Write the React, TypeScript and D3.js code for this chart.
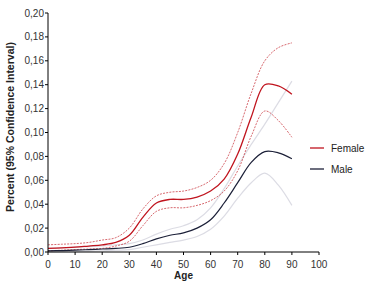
import React from "react";
import * as d3 from "d3";

const ages = [0, 5, 10, 15, 20, 25, 30, 35, 40, 45, 50, 55, 60, 65, 70, 75, 80, 85, 90];
const femaleMain = [0.003, 0.0035, 0.004, 0.005, 0.006, 0.008, 0.014, 0.029, 0.041, 0.044, 0.044, 0.046, 0.051, 0.061, 0.082, 0.113, 0.140, 0.139, 0.132];
const femaleUpper = [0.006, 0.0065, 0.007, 0.008, 0.01, 0.012, 0.02, 0.036, 0.047, 0.05, 0.051, 0.054, 0.06, 0.074, 0.1, 0.133, 0.16, 0.171, 0.175];
const femaleLower = [0.001, 0.0015, 0.002, 0.0025, 0.003, 0.005, 0.009, 0.022, 0.034, 0.037, 0.037, 0.039, 0.043, 0.051, 0.068, 0.097, 0.118, 0.11, 0.096];
const maleMain = [0.001, 0.0012, 0.0015, 0.002, 0.0025, 0.003, 0.004, 0.007, 0.011, 0.014, 0.016, 0.02, 0.027, 0.041, 0.058, 0.075, 0.084, 0.083, 0.078];
const maleUpper = [0.003, 0.0035, 0.004, 0.0045, 0.005, 0.006, 0.007, 0.01, 0.015, 0.019, 0.022, 0.027, 0.037, 0.053, 0.072, 0.09, 0.107, 0.125, 0.143];
const maleLower = [0, 0.0002, 0.0003, 0.0006, 0.001, 0.0015, 0.002, 0.004, 0.006, 0.008, 0.01, 0.013, 0.019, 0.03, 0.045, 0.058, 0.066, 0.056, 0.039];

const xTicks = [0, 10, 20, 30, 40, 50, 60, 70, 80, 90, 100];
const yTicks = [0, 0.02, 0.04, 0.06, 0.08, 0.1, 0.12, 0.14, 0.16, 0.18, 0.2];
const legendLabels = ["Female", "Male"];

const FEMALE = "#c0141e";
const MALE = "#1c2038";
const FONT = "Liberation Sans, Arial, Helvetica, sans-serif";

export default function App() {
  const x = d3.scaleLinear().domain([0, 100]).range([48, 319]);
  const y = d3.scaleLinear().domain([0, 0.2]).range([252, 13]);
  const line = (vals: number[]) =>
    d3
      .line<number>()
      .x((_, i) => x(ages[i]))
      .y((d) => y(d))
      .curve(d3.curveCatmullRom.alpha(0.5))(vals) || "";

  const fmt = (v: number) => v.toFixed(2).replace(".", ",");

  return (
    <svg
      width={376}
      height={287}
      style={{ position: "absolute", left: 0, top: 0, background: "#fff" }}
      fontFamily={FONT}
    >
      {/* Male CI */}
      <path d={line(maleUpper)} fill="none" stroke="#dcdce4" strokeWidth={1.2} />
      <path d={line(maleLower)} fill="none" stroke="#dcdce4" strokeWidth={1.2} />
      {/* Female CI */}
      <path d={line(femaleUpper)} fill="none" stroke={FEMALE} strokeWidth={0.8} strokeDasharray="2,1.2" opacity={0.8} />
      <path d={line(femaleLower)} fill="none" stroke={FEMALE} strokeWidth={0.8} strokeDasharray="2,1.2" opacity={0.8} />
      {/* mains */}
      <path d={line(maleMain)} fill="none" stroke={MALE} strokeWidth={1.2} />
      <path d={line(femaleMain)} fill="none" stroke={FEMALE} strokeWidth={1.3} />

      {/* axes */}
      <line x1={x(0)} x2={x(100)} y1={y(0)} y2={y(0)} stroke="#000" strokeWidth={1} />
      <line x1={x(0)} x2={x(0)} y1={y(0)} y2={y(0.2)} stroke="#000" strokeWidth={1} />
      {xTicks.map((t) => (
        <g key={"x" + t}>
          <line x1={x(t)} x2={x(t)} y1={y(0)} y2={y(0) + 3} stroke="#000" />
          <text x={x(t)} y={268} textAnchor="middle" fontSize={10} fill="#333">
            {t}
          </text>
        </g>
      ))}
      {yTicks.map((t) => (
        <g key={"y" + t}>
          <line x1={x(0) - 3} x2={x(0)} y1={y(t)} y2={y(t)} stroke="#000" />
          <text x={44} y={y(t) + 3.5} textAnchor="end" fontSize={10} fill="#333">
            {fmt(t)}
          </text>
        </g>
      ))}
      <text x={x(50)} y={279} textAnchor="middle" fontSize={10} fontWeight="bold" fill="#222">
        Age
      </text>
      <text
        transform={`translate(14,127) rotate(-90)`}
        textAnchor="middle"
        fontSize={10.5}
        fontWeight="bold"
        fill="#222"
      >
        Percent (95% Confidence Interval)
      </text>

      {/* legend */}
      {legendLabels.map((lab, i) => (
        <g key={lab}>
          <line x1={310} x2={324} y1={148 + i * 21} y2={148 + i * 21} stroke={i === 0 ? FEMALE : MALE} strokeWidth={1.3} />
          <text x={331} y={151.5 + i * 21} fontSize={10} fill="#222">
            {lab}
          </text>
        </g>
      ))}
    </svg>
  );
}
